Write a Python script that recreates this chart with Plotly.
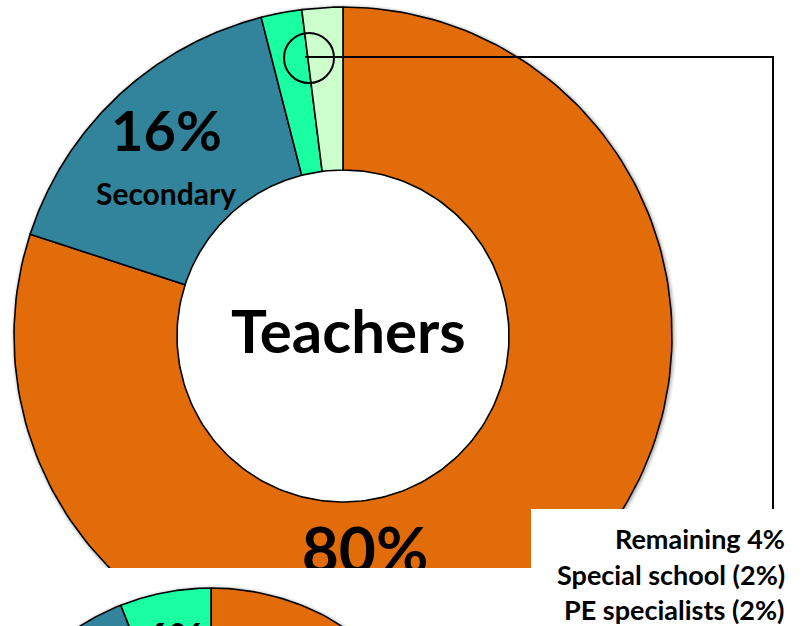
import numpy as np
import plotly.graph_objects as go

# ---------------- data ----------------
teacher_labels = ["Primary", "Secondary", "Special school", "PE specialists"]
teacher_values = [80, 16, 2, 2]
teacher_colors = ["#E36C0A", "#31849B", "#19FFA2", "#CCFFCC"]

second_labels = ["Primary", "Secondary", "Other"]
second_values = [78, 16, 6]
second_colors = ["#E36C0A", "#31849B", "#19FFA2"]

callout_lines = ["Remaining 4%", "Special school (2%)", "PE specialists (2%)"]

W, H = 812, 626
SPLIT = 568  # pixel row where the top panel ends

# ---------------- helpers ----------------
def ring(cx, cy, ro, ri, a0, a1, n=200):
    t = np.linspace(a0, a1, n)
    xo = cx + ro * np.sin(t)
    yo = cy - ro * np.cos(t)
    xi = cx + ri * np.sin(t[::-1])
    yi = cy - ri * np.cos(t[::-1])
    x = np.concatenate([xo, xi, xo[:1]])
    y = np.concatenate([yo, yi, yo[:1]])
    return x, y


def donut_traces(values, colors, labels, cx, cy, ro, ri, xa, ya):
    total = float(sum(values))
    cum = np.concatenate([[0], np.cumsum(values)]) / total * 2 * np.pi
    traces = []
    for i, v in enumerate(values):
        x, y = ring(cx, cy, ro, ri, cum[i], cum[i + 1])
        traces.append(go.Scatter(
            x=x, y=y, mode="lines", fill="toself", fillcolor=colors[i],
            line=dict(color="black", width=1.6), name=labels[i],
            hoverinfo="name", xaxis=xa, yaxis=ya, showlegend=False))
    return traces


def shadow_traces(cx, cy, ro, xa, ya):
    out = []
    for extra, alpha in [(4, 0.05), (2.5, 0.08), (1.2, 0.12)]:
        x, y = ring(cx + 1, cy + 1, ro + extra, ro - 3, 0, 2 * np.pi, 300)
        out.append(go.Scatter(
            x=x, y=y, mode="lines", fill="toself", fillcolor=f"rgba(0,0,0,{alpha})",
            line=dict(width=0), hoverinfo="skip", xaxis=xa, yaxis=ya, showlegend=False))
    return out


fig = go.Figure()

# top panel: Teachers donut
BCX, BCY, BRO, BRI = 343, 336, 329, 166
for tr in shadow_traces(BCX, BCY, BRO, "x", "y"):
    fig.add_trace(tr)
for tr in donut_traces(teacher_values, teacher_colors, teacher_labels,
                       BCX, BCY, BRO, BRI, "x", "y"):
    fig.add_trace(tr)

# 80% label (clipped by the panel edge)
fig.add_trace(go.Scatter(
    x=[365], y=[557], mode="text", text=[f"{teacher_values[0]}%"],
    textfont=dict(family="Lato", size=64, color="black", weight="bold"),
    textposition="middle center", hoverinfo="skip", xaxis="x", yaxis="y",
    showlegend=False))

# bottom panel: second donut (only its top is visible)
SCX, SCY, SRO, SRI = 211, 833, 245, 125
for tr in shadow_traces(SCX, SCY, SRO, "x2", "y2"):
    fig.add_trace(tr)
for tr in donut_traces(second_values, second_colors, second_labels,
                       SCX, SCY, SRO, SRI, "x2", "y2"):
    fig.add_trace(tr)
fig.add_trace(go.Scatter(
    x=[174], y=[643], mode="text", text=[f"{second_values[2]}%"],
    textfont=dict(family="Lato", size=42, color="black", weight="bold"),
    textposition="middle center", hoverinfo="skip", xaxis="x2", yaxis="y2",
    showlegend=False))

frac = (H - SPLIT) / H
ax_common = dict(visible=False, showgrid=False, zeroline=False, fixedrange=True)
fig.update_layout(
    width=W, height=H, margin=dict(l=0, r=0, t=0, b=0),
    paper_bgcolor="white", plot_bgcolor="white", showlegend=False,
    xaxis=dict(domain=[0, 1], range=[0, W], **ax_common),
    yaxis=dict(domain=[frac, 1], range=[SPLIT, 0], **ax_common),
    xaxis2=dict(domain=[0, 1], range=[0, W], anchor="y2", **ax_common),
    yaxis2=dict(domain=[0, frac], range=[H, SPLIT], anchor="x2", **ax_common),
)

def py(ypx):
    return 1 - ypx / H

shapes = [
    dict(type="circle", xref="x", yref="y", x0=284, x1=334, y0=33, y1=83,
         line=dict(color="black", width=2), layer="above"),
    dict(type="path", xref="paper", yref="paper",
         path=f"M {305/W},{py(57)} L {773/W},{py(57)} L {773/W},{py(530)}",
         line=dict(color="black", width=2), layer="above"),
    dict(type="rect", xref="paper", yref="paper", x0=531 / W, x1=1,
         y0=0, y1=py(509), fillcolor="white", line=dict(width=0), layer="above"),
]
fig.update_layout(shapes=shapes)

annots = [
    dict(x=348, y=330, xref="x", yref="y", text="Teachers", showarrow=False,
         font=dict(family="Lato", size=60, color="black", weight="bold")),
    dict(x=166, y=129, xref="x", yref="y", text=f"{teacher_values[1]}%", showarrow=False,
         font=dict(family="Lato", size=56, color="black", weight="bold")),
    dict(x=166, y=193, xref="x", yref="y", text=teacher_labels[1], showarrow=False,
         font=dict(family="Lato", size=30, color="black", weight="bold")),
]
for txt, base in zip(callout_lines, [547, 583, 618]):
    annots.append(dict(x=787 / W, y=py(base - 9), xref="paper", yref="paper",
                       xanchor="right", yanchor="middle", text=txt, showarrow=False,
                       font=dict(family="Lato", size=27, color="black", weight="bold")))
fig.update_layout(annotations=annots)

fig.write_html("out.html", config={"displayModeBar": False},
               post_script="document.body.style.margin='0';document.body.style.overflow='hidden';")
